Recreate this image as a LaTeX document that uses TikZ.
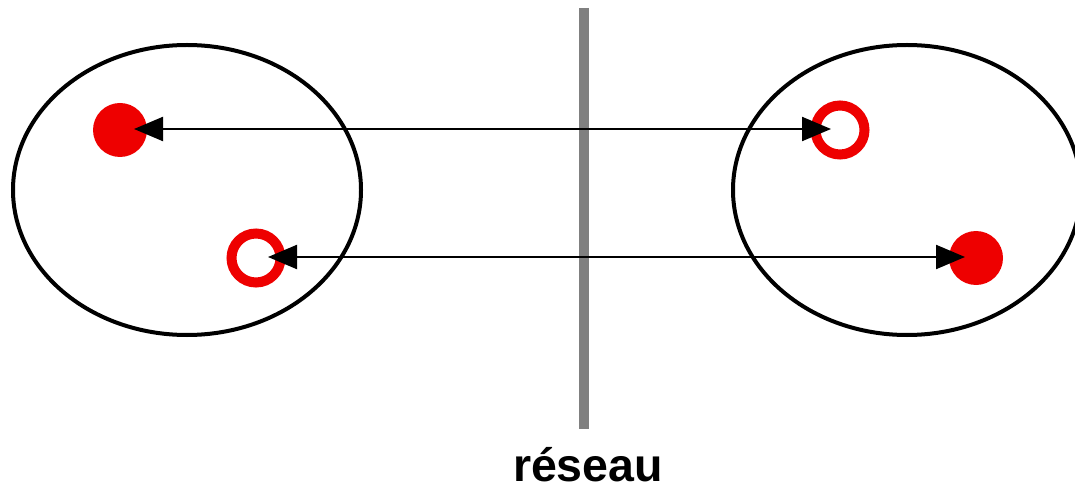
\documentclass[tikz,border=0pt]{standalone}
\usepackage{fontspec}
\setmainfont{Liberation Sans}
\usetikzlibrary{arrows.meta}
\definecolor{dotred}{HTML}{EE0000}
\definecolor{netgray}{HTML}{808080}
\tikzset{
  set/.style={draw=black,line width=4pt},
  fulldot/.style={circle,fill=dotred,draw=none,minimum size=54pt,inner sep=0pt},
  ringdot/.style={circle,draw=dotred,line width=10pt,minimum size=49pt,inner sep=0pt,outer sep=0pt},
  link/.style={line width=2.2pt,{Triangle[length=29pt,width=24pt]}-{Triangle[length=29pt,width=24pt]}},
  wall/.style={draw=netgray,line width=10pt},
  lbl/.style={font=\bfseries\fontsize{46.5}{50}\selectfont,anchor=base,inner sep=0pt,text depth=0pt}
}
\begin{document}
\begin{tikzpicture}[x=1pt,y=-1pt]
\useasboundingbox (0,0) rectangle (1075,486);
\clip (0,0) rectangle (1075,486);
\fill[white] (0,0) rectangle (1075,486);
\draw[set] (187,190) ellipse [x radius=174,y radius=145];
\draw[set] (907,190) ellipse [x radius=174,y radius=145];
\coordinate (wt) at (584,8);
\coordinate (wb) at (584,429);
\draw[wall] (wt) -- (wb);
\node[fulldot] (a1) at (120,130) {};
\node[ringdot] (b1) at (840,130) {};
\node[ringdot] (a2) at (256,258) {};
\node[fulldot] (b2) at (976,258) {};
\draw[link] ([xshift=14pt,yshift=1pt]a1.center) -- ([xshift=-9pt,yshift=1pt]b1.center);
\draw[link] ([xshift=12pt,yshift=1pt]a2.center) -- ([xshift=-11pt,yshift=1pt]b2.center);
\node[lbl] (net) at (588,481) {réseau};
\end{tikzpicture}
\end{document}
